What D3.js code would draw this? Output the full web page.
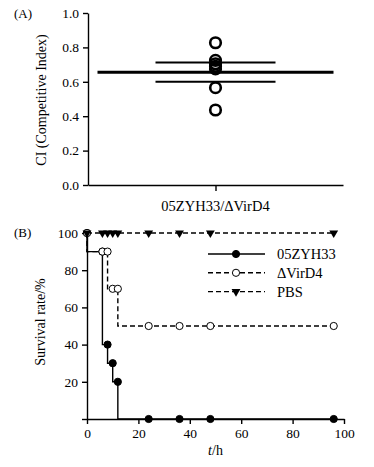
<!DOCTYPE html>
<html>
<head>
<meta charset="utf-8">
<script src="https://cdn.jsdelivr.net/npm/d3@7"></script>
<style>
  body { margin: 0; background: #fff; }
  text { font-family: "Liberation Serif", "DejaVu Serif", serif; fill: #000; }
  .axis path, .axis line { stroke: #000; stroke-width: 1.4; }
  .axis text { font-size: 13.5px; }
</style>
</head>
<body>
<div id="chart"></div>
<script>
// panel A: competitive index
const groupsA = ['05ZYH33/\u0394VirD4']
const ciValues = [0.827, 0.725, 0.705, 0.69, 0.675, 0.566, 0.436]
const ciMean = 0.655
const ciUpper = 0.712
const ciLower = 0.600
const ticksA = [0, 0.2, 0.4, 0.6, 0.8, 1.0]

// panel B: survival
const hours = [0, 6, 8, 10, 12, 24, 36, 48, 96]
const survWT = [100, 90, 40, 30, 20, 0, 0, 0, 0]
const survMut = [100, 90, 90, 70, 70, 50, 50, 50, 50]
const survPBS = [100, 100, 100, 100, 100, 100, 100, 100, 100]
const seriesNames = ['05ZYH33', '\u0394VirD4', 'PBS']
const ticksBx = [0, 20, 40, 60, 80, 100]
const ticksBy = [20, 40, 60, 80, 100]

const width = 374
const height = 467

const svg = d3.select('#chart')
  .append('svg')
  .attr('width', width)
  .attr('height', height)

// ---------- (A) ----------
const gA = svg.append('g')

const xA = d3.scalePoint()
  .domain(groupsA)
  .range([88, 343])
  .padding(0.5)

const yA = d3.scaleLinear()
  .domain([0, 1])
  .range([185, 13])

gA.append('g')
  .attr('class', 'axis')
  .attr('transform', 'translate(88,0)')
  .call(d3.axisLeft(yA).tickValues(ticksA).tickFormat(d3.format('.1f')).tickSize(5).tickSizeOuter(0).tickPadding(4))

gA.append('g')
  .attr('class', 'axis')
  .attr('transform', 'translate(0,185)')
  .call(d3.axisBottom(xA).tickSize(6).tickSizeOuter(0).tickFormat(''))

gA.append('text')
  .attr('x', xA(groupsA[0]))
  .attr('y', 211)
  .attr('text-anchor', 'middle')
  .style('font-size', '14.5px')
  .text(groupsA[0])

gA.append('text')
  .attr('transform', 'translate(46,100) rotate(-90)')
  .attr('text-anchor', 'middle')
  .style('font-size', '14px')
  .text('CI (Competitive Index)')

gA.append('text')
  .attr('x', 14)
  .attr('y', 18)
  .style('font-size', '13px')
  .text('(A)')

const cx = xA(groupsA[0])

gA.selectAll('circle.ci')
  .data(ciValues)
  .enter()
  .append('circle')
  .attr('class', 'ci')
  .attr('cx', cx)
  .attr('cy', d => yA(d))
  .attr('r', 5.3)
  .attr('fill', 'none')
  .attr('stroke', '#000')
  .attr('stroke-width', 2.6)

gA.append('line')
  .attr('x1', cx - 118).attr('x2', cx + 118)
  .attr('y1', yA(ciMean)).attr('y2', yA(ciMean))
  .attr('stroke', '#000').attr('stroke-width', 3)

;[ciUpper, ciLower].forEach(v => {
  gA.append('line')
    .attr('x1', cx - 60).attr('x2', cx + 60)
    .attr('y1', yA(v)).attr('y2', yA(v))
    .attr('stroke', '#000').attr('stroke-width', 2)
})

// ---------- (B) ----------
const gB = svg.append('g')

const xB = d3.scaleLinear()
  .domain([0, 100])
  .range([87, 344])

const yB = d3.scaleLinear()
  .domain([0, 100])
  .range([419, 233])

gB.append('g')
  .attr('class', 'axis')
  .attr('transform', 'translate(0,419)')
  .call(d3.axisBottom(xB).tickValues(ticksBx).tickSize(5).tickSizeOuter(0).tickPadding(4))

gB.append('g')
  .attr('class', 'axis')
  .attr('transform', 'translate(87,0)')
  .call(d3.axisLeft(yB).tickValues([0].concat(ticksBy)).tickFormat(d => d === 0 ? '' : d).tickSize(5).tickSizeOuter(0).tickPadding(4))

const xt = gB.append('text')
  .attr('x', xB(50))
  .attr('y', 455)
  .attr('text-anchor', 'middle')
  .style('font-size', '14px')
xt.append('tspan').style('font-style', 'italic').text('t')
xt.append('tspan').text('/h')

gB.append('text')
  .attr('transform', 'translate(45,322) rotate(-90)')
  .attr('text-anchor', 'middle')
  .style('font-size', '14px')
  .text('Survival rate/%')

gB.append('text')
  .attr('x', 14)
  .attr('y', 237)
  .style('font-size', '13px')
  .text('(B)')

const line = d3.line()
  .curve(d3.curveStepBefore)
  .x(d => xB(d[0]))
  .y(d => yB(d[1]))

const series = [
  { name: seriesNames[0], values: survWT, dash: null, marker: 'dot' },
  { name: seriesNames[1], values: survMut, dash: '5,3', marker: 'open' },
  { name: seriesNames[2], values: survPBS, dash: '5,3', marker: 'tri' }
]

const tri = d3.symbol().type(d3.symbolTriangle).size(34)

const drawMarker = (sel, kind) => {
  if (kind === 'tri') {
    sel.append('path')
      .attr('d', tri)
      .attr('transform', 'rotate(180)')
      .attr('fill', '#000')
  } else {
    sel.append('circle')
      .attr('r', 3.6)
      .attr('fill', kind === 'dot' ? '#000' : '#fff')
      .attr('stroke', '#000')
      .attr('stroke-width', 1)
  }
}

series.forEach(s => {
  const pts = hours.map((h, i) => [h, s.values[i]])
  gB.append('path')
    .datum(pts)
    .attr('d', line)
    .attr('fill', 'none')
    .attr('stroke', '#000')
    .attr('stroke-width', 1.4)
    .attr('stroke-dasharray', s.dash)
})

series.forEach(s => {
  const pts = hours.map((h, i) => [h, s.values[i]])
  gB.selectAll(null)
    .data(pts)
    .enter()
    .append('g')
    .attr('transform', d => 'translate(' + xB(d[0]) + ',' + yB(d[1]) + ')')
    .each(function() { drawMarker(d3.select(this), s.marker) })
})

// legend
const legend = gB.append('g')
series.forEach((s, i) => {
  const ly = 254 + i * 18.8
  const row = legend.append('g').attr('transform', 'translate(0,' + ly + ')')
  row.append('line')
    .attr('x1', 208).attr('x2', 265)
    .attr('stroke', '#000').attr('stroke-width', 1.4)
    .attr('stroke-dasharray', s.dash)
  const m = row.append('g').attr('transform', 'translate(236,0)')
  drawMarker(m, s.marker)
  row.append('text')
    .attr('x', 277)
    .attr('y', 5)
    .style('font-size', '14.5px')
    .text(s.name)
})
</script>
</body>
</html>
